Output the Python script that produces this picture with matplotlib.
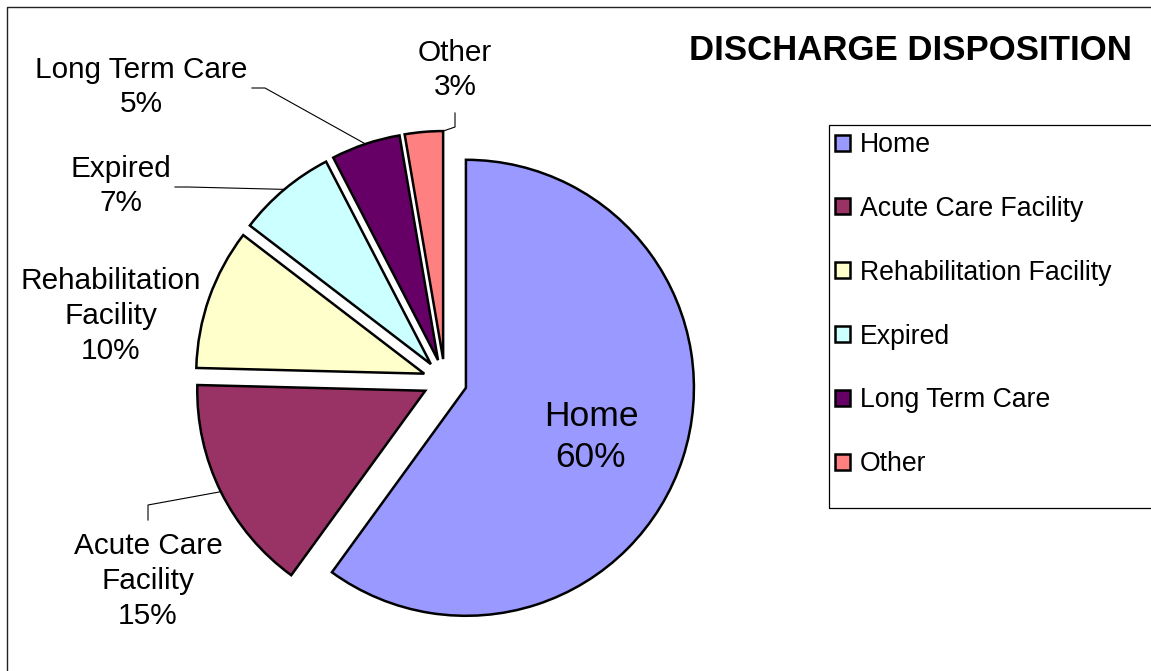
import numpy as np
import matplotlib
matplotlib.use('Agg')
import matplotlib.pyplot as plt
from matplotlib.patches import Rectangle

plt.rcParams['font.family'] = ['Liberation Sans', 'DejaVu Sans']

# data
categories = ['Home', 'Acute Care Facility', 'Rehabilitation Facility',
              'Expired', 'Long Term Care', 'Other']
wrapped = ['Home', 'Acute Care\nFacility', 'Rehabilitation\nFacility',
           'Expired', 'Long Term Care', 'Other']
percent = [60.0, 15.4, 10.0, 7.0, 4.9, 2.7]
colors = ['#9999FF', '#993366', '#FFFFCC', '#CCFFFF', '#660066', '#FF8080']

W, H = 1151, 671
fig = plt.figure(figsize=(W / 100, H / 100), dpi=100)
ax = fig.add_axes([0, 0, 1, 1])


def py(y):
    # pixel row (from top) -> data y
    return H - y


# explode is in data units here (1 unit = 1 px)
wedges, _ = ax.pie(percent, colors=colors, startangle=90, counterclock=False,
                   explode=[22] * len(percent), radius=228,
                   center=(445, py(381)),
                   wedgeprops=dict(edgecolor='black', linewidth=1.8))
ax.set_xlim(0, W)
ax.set_ylim(0, H)
ax.set_aspect('auto')
ax.axis('off')


def arc_point(w, frac):
    t = np.deg2rad(w.theta1 + frac * (w.theta2 - w.theta1))
    return w.center[0] + w.r * np.cos(t), w.center[1] + w.r * np.sin(t)


def lbl(i):
    return '%s\n%d%%' % (wrapped[i], round(percent[i]))


fs = 21.4
# Home label inside the slice
ax.text(591, py(437), lbl(0), ha='center', va='center', fontsize=25.5,
        linespacing=1.33)

# outside labels: (index, text position, leader elbow points, frac on arc)
outside = [
    (1, (148, 581), [(148, 520), (148, 505)], 0.5),
    (2, (111, 316), None, 0.5),
    (3, (121, 186), [(175, 187), (188, 187)], 0.5),
    (4, (141, 87), [(252, 88), (265, 88)], 0.5),
    (5, (455, 70), [(455, 113), (455, 127)], 0.0),
]
for i, (tx, ty), elbow, frac in outside:
    ax.text(tx, py(ty), lbl(i), ha='center', va='center', fontsize=fs,
            linespacing=1.3)
    if elbow:
        ex, ey = arc_point(wedges[i], frac)
        xs = [p[0] for p in elbow] + [ex]
        ys = [py(p[1]) for p in elbow] + [ey]
        ax.plot(xs, ys, color='black', lw=0.8)

# title
ax.text(911, py(51), 'DISCHARGE DISPOSITION', ha='center', va='center',
        fontsize=25, fontweight='bold')

# legend
ax.add_patch(Rectangle((829, py(508)), 340, 383, facecolor='none',
                       edgecolor='black', lw=0.9))
ax.legend(wedges, categories, loc='upper left', bbox_to_anchor=(835, py(132)),
          bbox_transform=ax.transData, frameon=False, fontsize=19.2,
          borderpad=0, borderaxespad=0, handlelength=0.55, handleheight=0.55,
          handletextpad=0.38, labelspacing=1.42)

# chart border
ax.plot([7, 7, W], [0, py(7), py(7)], color='#222222', lw=1)

fig.savefig('out.png', dpi=100)
